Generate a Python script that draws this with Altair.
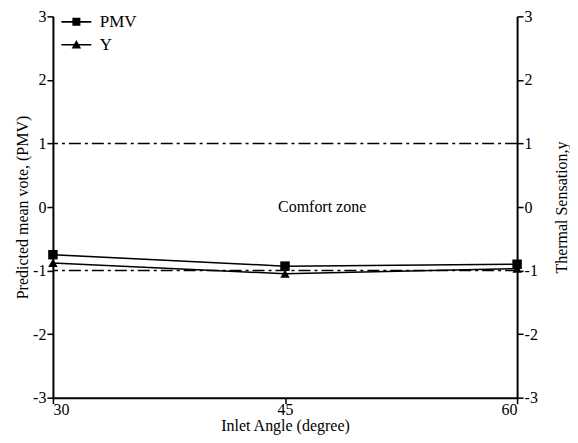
import altair as alt
import pandas as pd

angles = [30, 45, 60]
pmv = [-0.75, -0.93, -0.90]
y_sens = [-0.88, -1.05, -0.97]
series_names = ["PMV", "Y"]
comfort_limits = [1, -1]
comfort_label = "Comfort zone"
comfort_pos = (47.4, 0.0)
y_ticks = [-3, -2, -1, 0, 1, 2, 3]

rows = []
for a, p, s in zip(angles, pmv, y_sens):
    rows.append({"angle": a, "value": p, "series": "PMV"})
    rows.append({"angle": a, "value": s, "series": "Y"})
df = pd.DataFrame(rows)
limits_df = pd.DataFrame({"v": comfort_limits})
label_df = pd.DataFrame({"angle": [comfort_pos[0]], "value": [comfort_pos[1]], "text": [comfort_label]})

FONT = "Liberation Serif"
xscale = alt.Scale(domain=[30, 60], nice=False)
yscale = alt.Scale(domain=[-3, 3], nice=False)
LBL = "'' + datum.value"

xaxis = alt.Axis(values=angles, title="Inlet Angle (degree)", labelExpr=LBL, labelPadding=-2, titlePadding=0)
yaxis_left = alt.Axis(values=y_ticks, title="Predicted mean vote, (PMV)", labelExpr=LBL, titlePadding=2)

x = alt.X("angle:Q", scale=xscale, axis=xaxis)
y = alt.Y("value:Q", scale=yscale, axis=yaxis_left)

lines = alt.Chart(df).mark_line(strokeWidth=1.5, color="black").encode(
    x=x, y=y, detail="series:N"
)
points = alt.Chart(df).mark_point(filled=True, opacity=1, size=90, color="black").encode(
    x=x, y=y,
    shape=alt.Shape("series:N", scale=alt.Scale(domain=series_names, range=["square", "triangle-up"]), legend=None),
)
legend_layer = alt.Chart(df).mark_point(filled=True, color="black", opacity=0).encode(
    x=x, y=y,
    shape=alt.Shape(
        "series:N",
        scale=alt.Scale(
            domain=series_names,
            range=[
                "M-3,-0.16H3V0.16H-3ZM-0.8,-0.8H0.8V0.8H-0.8Z",
                "M-3,-0.16H3V0.16H-3ZM0,-0.95L0.95,0.75H-0.95Z",
            ],
        ),
        legend=alt.Legend(
            title=None, orient="none", legendX=15, legendY=-3,
            symbolSize=100, symbolOpacity=1, symbolFillColor="black",
            symbolStrokeWidth=0,
            labelFont=FONT, labelFontSize=17, labelColor="black", labelOffset=15, rowPadding=5,
        ),
    ),
)
rules = alt.Chart(limits_df).mark_rule(color="black", strokeWidth=1.5, strokeDash=[12, 4, 3, 4]).encode(
    y=alt.Y("v:Q", scale=yscale)
)
text = alt.Chart(label_df).mark_text(font=FONT, fontSize=16, color="black").encode(
    x=alt.X("angle:Q", scale=xscale), y=alt.Y("value:Q", scale=yscale), text="text:N"
)
left = alt.layer(rules, lines, points, legend_layer, text).resolve_scale(shape="independent")

right = alt.Chart(df).mark_point(opacity=0).encode(
    x=alt.X("angle:Q", scale=xscale),
    y=alt.Y("value:Q", scale=yscale,
            axis=alt.Axis(orient="right", values=y_ticks, labelExpr=LBL,
                          title="Thermal Sensation,y", titlePadding=16, titleAngle=270,
                          titleBaseline="top")),
)

chart = alt.layer(left, right).resolve_scale(y="independent").properties(
    width=465, height=382, padding={"left": 6, "top": 0, "right": 0, "bottom": 2}
).configure_view(stroke=None).configure_axis(
    labelFont=FONT, titleFont=FONT, labelFontSize=16, titleFontSize=16,
    labelColor="black", titleColor="black", titleFontWeight="normal",
    domainColor="black", domainWidth=2, tickColor="black", tickWidth=1.5, tickSize=6,
    grid=False, labelPadding=1,
)

chart.save("out.html", embed_options={"renderer": "svg", "actions": False})
